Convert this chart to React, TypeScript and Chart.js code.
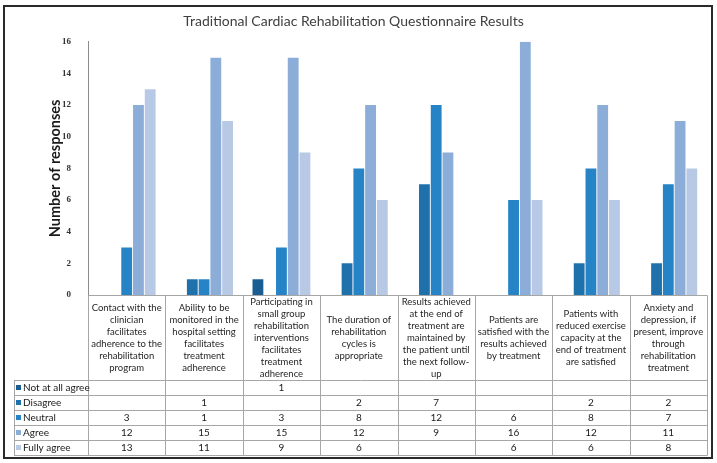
import React, { useEffect, useRef } from 'react';
import { Chart, registerables } from 'chart.js';

Chart.register(...registerables);

const chartTitle = 'Traditional Cardiac Rehabilitation Questionnaire Results';
const yAxisTitle = 'Number of responses';

const categories: string[][] = [
  ['Contact with the', 'clinician', 'facilitates', 'adherence to the', 'rehabilitation', 'program'],
  ['Ability to be', 'monitored in the', 'hospital setting', 'facilitates', 'treatment', 'adherence'],
  ['Participating in', 'small group', 'rehabilitation', 'interventions', 'facilitates', 'treatment', 'adherence'],
  ['The duration of', 'rehabilitation', 'cycles is', 'appropriate'],
  ['Results achieved', 'at the end of', 'treatment are', 'maintained by', 'the patient until', 'the next follow-', 'up'],
  ['Patients are', 'satisfied with the', 'results achieved', 'by treatment'],
  ['Patients with', 'reduced exercise', 'capacity at the', 'end of treatment', 'are satisfied'],
  ['Anxiety and', 'depression, if', 'present, improve', 'through', 'rehabilitation', 'treatment'],
];

const seriesNames = ['Not at all agree', 'Disagree', 'Neutral', 'Agree', 'Fully agree'];

const notAtAllAgree: (number | null)[] = [null, null, 1, null, null, null, null, null];
const disagree: (number | null)[] = [null, 1, null, 2, 7, null, 2, 2];
const neutral: (number | null)[] = [3, 1, 3, 8, 12, 6, 8, 7];
const agree: (number | null)[] = [12, 15, 15, 12, 9, 16, 12, 11];
const fullyAgree: (number | null)[] = [13, 11, 9, 6, null, 6, 6, 8];

const seriesColors = ['#1a5d93', '#1f71ab', '#2683c6', '#8badd7', '#b7c9e4'];

const yMax = 16;
const yStep = 2;

const seriesValues = [notAtAllAgree, disagree, neutral, agree, fullyAgree];

const TABLE_FONT = 'Lato, "Open Sans", sans-serif';

const tablePlugin = {
  id: 'dataTable',
  afterDraw(chart: any) {
    const { ctx, chartArea } = chart;
    const x = chart.scales.x;
    const n = categories.length;
    const left = x.left;
    const right = x.right;
    const cw = (right - left) / n;
    const top = chartArea.bottom;
    const headerH = 85;
    const rowH = 15;
    const tableLeft = 14;
    const rowsTop = top + headerH;
    const bottom = rowsTop + rowH * seriesValues.length;
    const px = (v: number) => Math.round(v) + 0.5;

    ctx.save();
    ctx.strokeStyle = '#a6a6a6';
    ctx.lineWidth = 1;
    ctx.beginPath();
    ctx.moveTo(px(left), px(top));
    ctx.lineTo(px(right), px(top));
    for (let r = 0; r <= seriesValues.length; r++) {
      const yy = px(rowsTop + r * rowH);
      ctx.moveTo(tableLeft, yy);
      ctx.lineTo(px(right), yy);
    }
    ctx.moveTo(px(tableLeft), px(rowsTop));
    ctx.lineTo(px(tableLeft), px(bottom));
    for (let i = 0; i <= n; i++) {
      const xx = px(left + i * cw);
      ctx.moveTo(xx, px(top));
      ctx.lineTo(xx, px(bottom));
    }
    ctx.stroke();

    ctx.fillStyle = '#262626';
    ctx.textAlign = 'center';
    ctx.textBaseline = 'middle';
    ctx.font = `9.5px ${TABLE_FONT}`;
    categories.forEach((lines, i) => {
      const cx = x.getPixelForValue(i);
      lines.forEach((l, j) => {
        ctx.fillText(l, cx, top + headerH / 2 + (j - (lines.length - 1) / 2) * 12);
      });
    });

    ctx.font = `10px ${TABLE_FONT}`;
    seriesValues.forEach((vals, r) => {
      const cy = rowsTop + r * rowH + rowH / 2;
      ctx.fillStyle = seriesColors[r];
      ctx.fillRect(16, Math.round(cy) - 3, 5, 5);
      ctx.fillStyle = '#1a1a1a';
      ctx.textAlign = 'left';
      ctx.fillText(seriesNames[r], 23, cy);
      ctx.textAlign = 'center';
      vals.forEach((v, i) => {
        if (v !== null) ctx.fillText(String(v), x.getPixelForValue(i), cy);
      });
    });
    ctx.restore();
  },
};

export default function App() {
  const canvasRef = useRef<HTMLCanvasElement | null>(null);

  useEffect(() => {
    document.body.style.margin = '0';
    const canvas = canvasRef.current;
    if (!canvas) return;
    const chart = new Chart(canvas, {
      type: 'bar',
      data: {
        labels: categories.map((c) => c.join(' ')),
        datasets: seriesNames.map((name, i) => ({
          label: name,
          data: seriesValues[i],
          backgroundColor: seriesColors[i],
          borderWidth: 0,
          categoryPercentage: 0.76,
          barPercentage: 0.92,
        })),
      },
      options: {
        responsive: false,
        animation: false,
        layout: { padding: { left: 0, right: 10, top: 0, bottom: 168 } },
        plugins: {
          legend: { display: false },
          tooltip: { enabled: false },
          title: {
            display: true,
            text: chartTitle,
            color: '#404040',
            font: { family: TABLE_FONT, size: 14, weight: 'normal' },
            padding: { top: 13, bottom: 12 },
          },
        },
        scales: {
          x: {
            display: true,
            grid: { display: false, drawTicks: false },
            ticks: { display: false },
            border: { display: false },
          },
          y: {
            min: 0,
            max: yMax,
            afterFit: (scale: any) => {
              scale.width = 88;
            },
            ticks: {
              stepSize: yStep,
              padding: 17,
              color: '#333333',
              font: { family: '"Liberation Serif", serif', size: 9, weight: 'bold' },
            },
            grid: { display: false, drawTicks: false },
            border: { display: true, color: '#8c8c8c', width: 1 },
            title: {
              display: true,
              text: yAxisTitle,
              color: '#1a1a1a',
              font: { family: TABLE_FONT, size: 14.5, weight: 'bold' },
              padding: { top: 47, bottom: 0 },
            },
          },
        },
      },
      plugins: [tablePlugin],
    });
    return () => chart.destroy();
  }, []);

  return (
    <div style={{ position: 'relative', width: 717, height: 463, background: '#fff' }}>
      <canvas ref={canvasRef} width={717} height={463} style={{ display: 'block' }} />
      <div
        style={{
          position: 'absolute',
          left: 3,
          top: 5,
          width: 710,
          height: 454,
          boxSizing: 'border-box',
          border: '2px solid #2a2a2a',
          pointerEvents: 'none',
        }}
      />
    </div>
  );
}
